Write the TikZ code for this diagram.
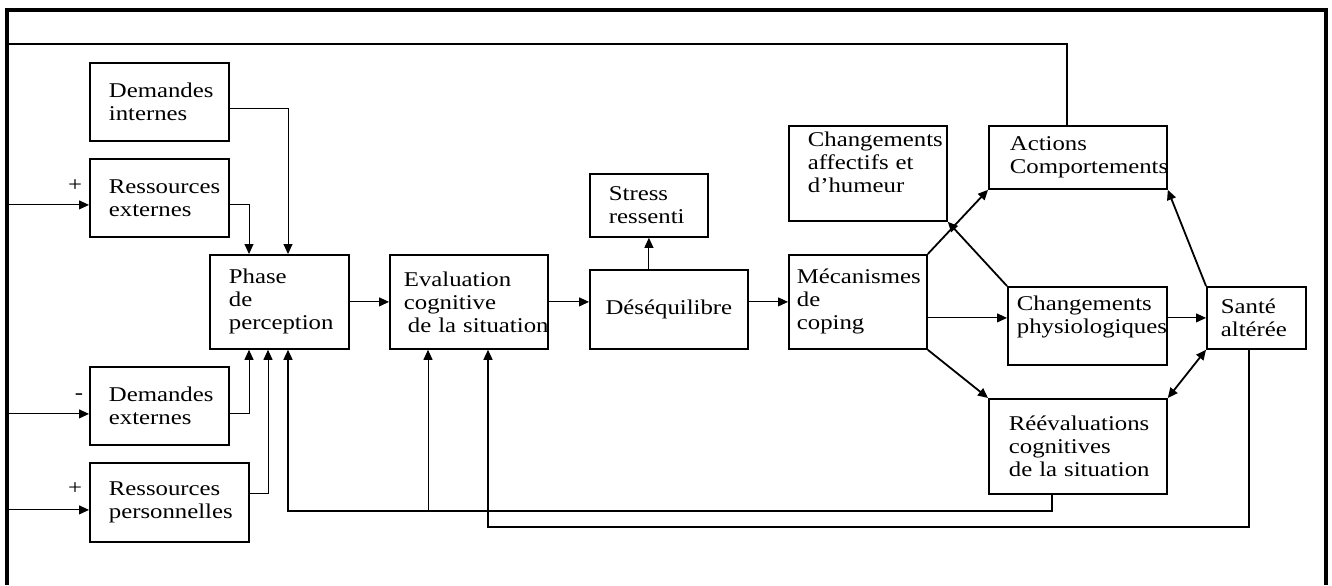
\documentclass[tikz,border=0pt]{standalone}
\usepackage{fontspec}
\setmainfont{Liberation Serif}[FakeStretch=1.18]
\usetikzlibrary{arrows.meta,calc}

\tikzset{
	caja/.style={draw, line width=0.9pt, anchor=north west, align=left, inner ysep=0pt, font=\fontsize{10.5}{11.5}\selectfont},
	dims/.code n args={3}{%
		\pgfmathsetmacro\anchoTexto{(#1-2*#3)*0.5}%
		\edef\tmpdims{\noexpand\pgfkeysalso{minimum width=#1*0.5pt, minimum height=#2*0.5pt, inner xsep=#3*0.5pt, text width=\anchoTexto pt}}%
		\tmpdims},
	fleche/.style={-{Triangle[length=5pt,width=4.5pt]}, line width=0.5pt},
	double/.style={{Triangle[length=5pt,width=4.5pt]}-{Triangle[length=5pt,width=4.5pt]}, line width=0.9pt},
	retour/.style={line width=0.75pt},
	signe/.style={font=\fontsize{10.5}{11.5}\selectfont, inner sep=0pt},
}

\begin{document}
\begin{tikzpicture}[x=0.5pt,y=-0.5pt]

	\useasboundingbox (0,0) rectangle (1332,585);

	%CADRE
	\draw[line width=1.75pt] (7,585) -- (7,10) -- (1326,10) -- (1326,585);
	\coordinate (gauche) at (7,585);
	\coordinate (haut) at (7,44);

	%BOITES
	\node[caja, dims={139}{78}{19}] (dint) at (89,62) {Demandes\\internes};
	\node[caja, dims={139}{78}{19}] (rext) at (89,158) {Ressources\\externes};
	\node[caja, dims={139}{78}{19}] (dext) at (89,366) {Demandes\\externes};
	\node[caja, dims={159}{79}{19}] (rpers) at (89,462) {Ressources\\personnelles};
	\node[caja, dims={139}{94}{19}] (phase) at (209,254) {Phase\\de\\perception};
	\node[caja, dims={158}{94}{14}] (eval) at (389,254) {Evaluation\\cognitive\\\hspace*{2pt}\mbox{de la situation}};
	\node[caja, dims={158}{79}{14}, align=center] (deseq) at (589,269) {Déséquilibre};
	\node[caja, dims={118}{63}{19}] (stress) at (589,173) {Stress\\ressenti};
	\node[caja, dims={138}{94}{8}] (mec) at (788,254) {Mécanismes\\de\\coping};
	\node[caja, dims={158}{95}{19}] (aff) at (788,125) {Changements\\affectifs et\\d’humeur\\\mbox{}};
	\node[caja, dims={178}{63}{21}] (act) at (988,125) {Actions\\Comportements};
	\node[caja, dims={159}{78}{9}] (phys) at (1007,286) {Changements\\physiologiques\\\mbox{}};
	\node[caja, dims={99}{62}{14}] (sante) at (1206,286) {Santé\\altérée};
	\node[caja, dims={178}{95}{20}] (reev) at (988,398) {Réévaluations\\cognitives\\\mbox{de la situation}};

	%SIGNES
	\node[signe] (s1) at (75,186) {+};
	\node[signe] (s2) at (79,397) {-};
	\node[signe] (s3) at (75,489) {+};

	%ENTREES
	\path
		($(rext.west)+(0,7)$) coordinate (rext-e)
		($(dext.west)+(0,8)$) coordinate (dext-e)
		($(rpers.west)+(0,7.5)$) coordinate (rpers-e)
		($(mec.east)+(0,16)$) coordinate (mec-e)
	;
	\draw[fleche] (gauche |- rext-e) -- (rext-e);
	\draw[fleche] (gauche |- dext-e) -- (dext-e);
	\draw[fleche] (gauche |- rpers-e) -- (rpers-e);

	\draw[fleche] ($(dint.east)+(0,7)$) -| ($(phase.north west)+(79,0)$);
	\draw[fleche] ($(rext.east)+(0,7)$) -| ($(phase.north west)+(40,0)$);
	\draw[fleche] ($(dext.east)+(0,8)$) -| ($(phase.south west)+(40,0)$);
	\draw[fleche] ($(rpers.east)+(0,-8.5)$) -| ($(phase.south west)+(59,0)$);

	%CHAINE
	\draw[fleche] (phase.east) -- (eval.west);
	\draw[fleche] (eval.east) -- (eval.east -| deseq.west);
	\draw[fleche] (deseq.east |- mec.west) -- (mec.west);
	\draw[fleche] (stress.south |- deseq.north) -- (stress.south);

	%COPING
	\draw[fleche, line width=0.9pt] (mec.north east) -- (act.south west);
	\draw[fleche, line width=0.9pt] (phys.north west) -- (aff.south east);
	\draw[fleche] (mec-e) -- (mec-e -| phys.west);
	\draw[fleche, line width=0.9pt] (mec.south east) -- (reev.north west);
	\draw[fleche] (sante.west -| phys.east) -- (sante.west);
	\draw[fleche, line width=0.9pt] (sante.north west) -- (act.south east);
	\draw[double] (sante.south west) -- (reev.north east);

	%RETOURS
	\path
		($(eval.south west)+(39,0)$) coordinate (eval-b1)
		($(eval.south west)+(99,0)$) coordinate (eval-b2)
	;
	\draw[fleche, retour] ($(reev.south)+(-26,0)$) -- ++(0,16) coordinate (bas1) -| ($(phase.south west)+(79,0)$);
	\draw[fleche] (eval-b1 |- bas1) -- (eval-b1);
	\draw[fleche, retour] ($(sante.south)+(-7.5,0)$) -- ++(0,177) -| (eval-b2);
	\draw[line width=0.8pt] ($(act.north)+(-11,0)$) |- (haut) -- (gauche);

\end{tikzpicture}
\end{document}
